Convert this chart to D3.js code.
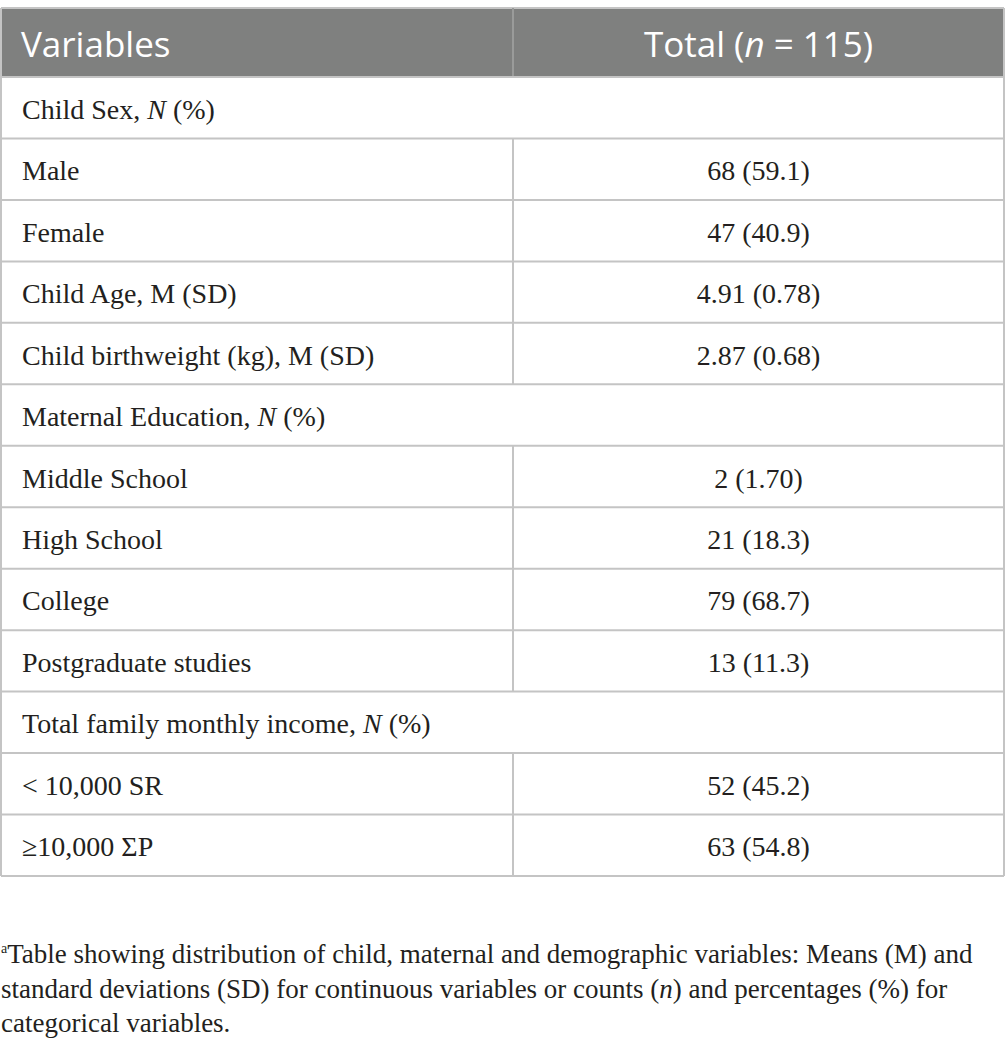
<!DOCTYPE html>
<html><head><meta charset="utf-8">
<script src="https://cdn.jsdelivr.net/npm/d3@7"></script>
<style>body{margin:0;background:#fff}svg{display:block}</style>
</head><body>
<script>
const headers = ["Variables", "Total (n = 115)"];
const rowLabels = ["Child Sex, N (%)", "Male", "Female", "Child Age, M (SD)", "Child birthweight (kg), M (SD)",
  "Maternal Education, N (%)", "Middle School", "High School", "College", "Postgraduate studies",
  "Total family monthly income, N (%)", "< 10,000 SR", "≥10,000 ΣP"];
const rowValues = ["", "68 (59.1)", "47 (40.9)", "4.91 (0.78)", "2.87 (0.68)", "", "2 (1.70)", "21 (18.3)",
  "79 (68.7)", "13 (11.3)", "", "52 (45.2)", "63 (54.8)"];
const rowIsSection = [true, false, false, false, false, true, false, false, false, false, true, false, false];
const footnoteLines = [
  "Table showing distribution of child, maternal and demographic variables: Means (M) and",
  "standard deviations (SD) for continuous variables or counts (n) and percentages (%) for",
  "categorical variables."];

const W = 1005, H = 1057;
const svg = d3.select("body").append("svg").attr("width", W).attr("height", H);
const x0 = 1, x1 = 513, x2 = 1004;
const topY = 8, headBottom = 77, tableBottom = 876;
const y = d3.scaleBand().domain(d3.range(rowLabels.length)).range([headBottom, tableBottom]);
const serif = "'Liberation Serif', 'DejaVu Serif', serif";
const sans = "'Open Sans', 'Noto Sans', sans-serif";
const lineCol = "#c4c4c4";
const textCol = "#231f20";

// header
svg.append("rect").attr("x", x0).attr("y", topY).attr("width", x2 - x0).attr("height", headBottom - topY).attr("fill", "#7f807f");
svg.append("line").attr("x1", x0).attr("x2", x2).attr("y1", topY).attr("y2", topY).attr("stroke", lineCol).attr("stroke-width", 2);
svg.append("line").attr("x1", x1).attr("x2", x1).attr("y1", topY).attr("y2", headBottom).attr("stroke", "#9a9b9a").attr("stroke-width", 2);
svg.append("text").attr("x", 21).attr("y", 57).attr("fill", "#fff").attr("font-family", sans).attr("font-size", 35).text(headers[0]);
const ht = svg.append("text").attr("x", (x1 + x2) / 2).attr("y", 57).attr("text-anchor", "middle").attr("fill", "#fff")
  .attr("font-family", sans).attr("font-size", 35);
ht.append("tspan").text("Total (");
ht.append("tspan").attr("font-style", "italic").text("n");
ht.append("tspan").text(" = 115)");

// rows
const g = svg.append("g");
const rows = g.selectAll("g.row").data(rowLabels.map((l, i) => ({l, v: rowValues[i], s: rowIsSection[i], i})))
  .join("g").attr("class", "row");
rows.each(function(d) {
  const sel = d3.select(this);
  const yc = y(d.i) + y.bandwidth() / 2 + 11;
  const t = sel.append("text").attr("x", 22).attr("y", yc).attr("font-family", serif).attr("font-size", 28).attr("fill", textCol);
  const m = d.l.match(/^(.*, )(N|M)( \(.*\))$/);
  if (m && m[2] === "N") {
    t.append("tspan").text(m[1]);
    t.append("tspan").attr("font-style", "italic").text(m[2]);
    t.append("tspan").text(m[3]);
  } else t.text(d.l);
  if (!d.s) {
    sel.append("text").attr("x", (x1 + x2) / 2).attr("y", yc).attr("text-anchor", "middle")
      .attr("font-family", serif).attr("font-size", 28).attr("fill", textCol).text(d.v);
    sel.append("line").attr("x1", x1).attr("x2", x1).attr("y1", y(d.i)).attr("y2", y(d.i) + y.bandwidth())
      .attr("stroke", lineCol).attr("stroke-width", 2);
  }
  sel.append("line").attr("x1", x0).attr("x2", x2).attr("y1", y(d.i) + y.bandwidth()).attr("y2", y(d.i) + y.bandwidth())
    .attr("stroke", lineCol).attr("stroke-width", 2);
});
// outer borders
svg.append("line").attr("x1", x0).attr("x2", x0).attr("y1", topY).attr("y2", tableBottom).attr("stroke", lineCol).attr("stroke-width", 2);
svg.append("line").attr("x1", x2).attr("x2", x2).attr("y1", topY).attr("y2", tableBottom).attr("stroke", lineCol).attr("stroke-width", 2);
svg.append("line").attr("x1", x0).attr("x2", x2).attr("y1", headBottom).attr("y2", headBottom).attr("stroke", lineCol).attr("stroke-width", 2);

// footnote
const fy = [963, 998, 1032];
footnoteLines.forEach((line, i) => {
  const t = svg.append("text").attr("x", 1).attr("y", fy[i]).attr("font-family", serif).attr("font-size", 27).attr("fill", textCol);
  if (i === 0) {
    t.append("tspan").attr("font-size", 14).attr("dy", -10).text("a");
    t.append("tspan").attr("dy", 10).text(line);
  } else if (line.includes("(n)")) {
    const parts = line.split("(n)");
    t.append("tspan").text(parts[0] + "(");
    t.append("tspan").attr("font-style", "italic").text("n");
    t.append("tspan").text(")" + parts[1]);
  } else t.text(line);
});
</script>
</body></html>
